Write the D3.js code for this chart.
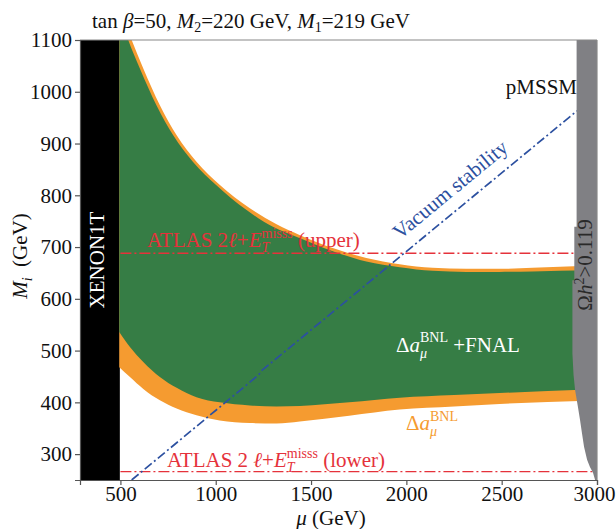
<!DOCTYPE html>
<html><head><meta charset="utf-8">
<script src="https://cdn.jsdelivr.net/npm/d3@7"></script>
<style>body{margin:0;background:#fff}svg{display:block}text{font-family:"Liberation Serif","Times New Roman",serif;white-space:pre}</style>
</head><body><svg id="c" width="616" height="529"></svg>
<script>
// ---- data ----
const xTicks = [500, 1000, 1500, 2000, 2500, 3000];
const yTicks = [300, 400, 500, 600, 700, 800, 900, 1000, 1100];
const xenonMu = [288, 497];
const orangeUpperMu = [495, 559, 620, 707, 795, 899, 1022, 1179, 1319, 1442, 1614, 1790, 1965, 2138, 2314, 2489, 2662, 2950];
const orangeUpperM  = [1160, 1100, 1045, 974, 916, 865, 820, 775, 744, 723, 698, 679, 667, 660, 658, 658, 660, 664];
const greenUpperMu  = [495, 541, 602, 689, 777, 880, 1002, 1160, 1300, 1442, 1614, 1790, 1965, 2138, 2314, 2489, 2662, 2950];
const greenUpperM   = [1150, 1100, 1045, 974, 916, 865, 820, 772, 739, 717, 692, 672, 661, 654, 652, 652, 653, 655];
const lowerMu       = [494, 550, 620, 707, 795, 899, 1021, 1179, 1319, 1441, 1700, 1965, 2250, 2489, 2950];
const greenLowerM   = [536, 507, 478, 449, 428, 410, 400, 394, 392, 393, 400, 409, 414, 418, 425];
const orangeLowerM  = [468, 449, 426, 404, 388, 375, 365, 360, 359, 363, 374, 386, 392, 397, 403];
const grayEdgeMu = [2893, 2893, 2881, 2881, 2871, 2871, 2877, 2885, 2900, 2911, 2921, 2932, 2948, 2963, 2979, 2990];
const grayEdgeM  = [1100, 739, 739, 636, 636, 495, 453, 424, 391, 366, 341, 314, 289, 275, 264, 250];
const vacMu = [559, 1225, 1240, 2895];
const vacM  = [250, 453, 461, 963];
const atlasUpperM = 688, atlasLowerM = 266, atlasMu = [500, 3000];

// ---- layout ----
const svg = d3.select('#c');
const L = 80, R = 597, T = 40, B = 480;
const FS = 21, SS = 14;
const x = d3.scaleLinear().domain([288, 3000]).range([L, R]);
const y = d3.scaleLinear().domain([250, 1100]).range([B, T]);
const C = {green:'#367d45', orange:'#f59b30', gray:'#808084', red:'#e5323b', blue:'#2c50a0'};

svg.append('defs').append('clipPath').attr('id','clip').append('rect')
  .attr('x',L).attr('y',T).attr('width',R-L).attr('height',B-T);
const P = svg.append('g').attr('clip-path','url(#clip)');

const line = d3.line().x(d=>x(d[0])).y(d=>y(d[1])).curve(d3.curveMonotoneX);
function band(upMu, upM, loMu, loM){
  const up = upMu.map((m,i)=>[m, upM[i]]);
  const lo = loMu.map((m,i)=>[m, loM[i]]).reverse();
  return line(up) + 'L' + line(lo).slice(1) + 'Z';
}

// XENON1T
P.append('rect').attr('x',x(xenonMu[0])).attr('y',T).attr('width',x(xenonMu[1])-x(xenonMu[0])).attr('height',B-T).attr('fill','#000');
// bands
P.append('path').attr('d', band(orangeUpperMu, orangeUpperM, lowerMu, orangeLowerM)).attr('fill', C.orange);
P.append('path').attr('d', band(greenUpperMu, greenUpperM, lowerMu, greenLowerM)).attr('fill', C.green);
// ATLAS lines
[atlasUpperM, atlasLowerM].forEach(m=>{
  P.append('line').attr('x1',x(atlasMu[0])).attr('x2',x(atlasMu[1])).attr('y1',y(m)).attr('y2',y(m))
   .attr('stroke',C.red).attr('stroke-width',1.3).attr('stroke-dasharray','11,3,2,3');
});
// vacuum stability
P.append('path').attr('d', d3.line().x(d=>x(d[0])).y(d=>y(d[1]))(vacMu.map((m,i)=>[m,vacM[i]])))
  .attr('fill','none').attr('stroke',C.blue).attr('stroke-width',1.7).attr('stroke-dasharray','9,3,2,3');
// relic density region
const grayPts = grayEdgeMu.map((m,i)=>[m, grayEdgeM[i]]).concat([[3000,250],[3000,1100]]);
P.append('path').attr('d', d3.line().x(d=>x(d[0])).y(d=>y(d[1]))(grayPts)+'Z').attr('fill', C.gray);

// frame & axes
svg.append('line').attr('x1',L).attr('x2',R).attr('y1',T).attr('y2',T).attr('stroke','#888').attr('stroke-width',1.2);
svg.append('line').attr('x1',R).attr('x2',R).attr('y1',T).attr('y2',B).attr('stroke','#888').attr('stroke-width',1.2);
const ax = svg.append('g').attr('transform',`translate(0,${B})`).call(d3.axisBottom(x).tickValues(xTicks).tickFormat(d3.format('d')).tickSize(5).tickPadding(1));
const ay = svg.append('g').attr('transform',`translate(${L},0)`).call(d3.axisLeft(y).tickValues(yTicks).tickFormat(d3.format('d')).tickSize(5).tickPadding(3));
[ax, ay].forEach(a=>{
  a.selectAll('path,line').attr('stroke','#555').attr('stroke-width',1.2);
  a.selectAll('text').attr('font-size',FS).attr('fill','#111').attr('font-family','"Liberation Serif","Times New Roman",serif');
});
ax.selectAll('.tick text').filter(d=>d===3000).attr('dx',-3);

// rich text helper
function rich(parent, segs, color, base){
  base = base || FS;
  const g = parent.append('g');
  let cur = 0, prev = 0;
  segs.forEach(s=>{
    const x0 = s.stack ? prev : cur;
    const t = g.append('text').attr('x',x0).attr('y',-(s.up||0)).attr('font-size',s.fs||base).attr('fill',color).text(s.t);
    if (s.it) t.attr('font-style','italic');
    const w = t.node().getComputedTextLength();
    cur = s.stack ? Math.max(cur, x0+w) : x0+w;
    prev = x0;
  });
  return {g, w:cur};
}
function place(r, tx, ty, rot, anchor){
  const off = anchor==='middle' ? -r.w/2 : anchor==='end' ? -r.w : 0;
  r.g.attr('transform', `translate(${tx},${ty}) rotate(${rot||0}) translate(${off},0)`);
}

// title
place(rich(svg, [{t:'tan '},{t:'β',it:1},{t:'=50, '},{t:'M',it:1},{t:'2',fs:SS,up:-4},{t:'=220 GeV, '},{t:'M',it:1},{t:'1',fs:SS,up:-4},{t:'=219 GeV'}], '#111'), 92, 28);
// axis labels
place(rich(svg, [{t:'μ',it:1},{t:' (GeV)'}], '#111'), 331, 525, 0, 'middle');
place(rich(svg, [{t:'M',it:1},{t:'i',it:1,fs:SS,up:-5},{t:'  (GeV)'}], '#111'), 27, 256, -90, 'middle');
// region labels
place(rich(svg, [{t:'XENON1T'}], '#fff'), 104, 260, -90, 'middle');
place(rich(svg, [{t:'Ω'},{t:'h',it:1},{t:'2',fs:SS,up:8},{t:'>0.119'}], '#2a2a2a'), 592, 265, -90, 'middle');
place(rich(svg, [{t:'pMSSM'}], '#111'), 577, 94, 0, 'end');
place(rich(svg, [{t:'Vacuum stability'}], C.blue), 400, 240, -39.5);
place(rich(svg, [{t:'ATLAS 2'},{t:'ℓ',it:1},{t:'+'},{t:'E',it:1},{t:'T',it:1,fs:SS,up:-5},{t:'misss',fs:SS,up:9,stack:1},{t:' (upper)'}], C.red), 147, 247);
place(rich(svg, [{t:'ATLAS 2 '},{t:'ℓ',it:1},{t:'+'},{t:'E',it:1},{t:'T',it:1,fs:SS,up:-5},{t:'misss',fs:SS,up:9,stack:1},{t:' (lower)'}], C.red), 167, 467);
place(rich(svg, [{t:'Δ'},{t:'a',it:1},{t:'μ',it:1,fs:SS,up:-6},{t:'BNL',fs:SS,up:10,stack:1},{t:' +FNAL'}], '#fff'), 396, 352);
place(rich(svg, [{t:'Δ'},{t:'a',it:1},{t:'μ',it:1,fs:SS,up:-6},{t:'BNL',fs:SS,up:9,stack:1}], C.orange), 406, 430);
</script></body></html>
